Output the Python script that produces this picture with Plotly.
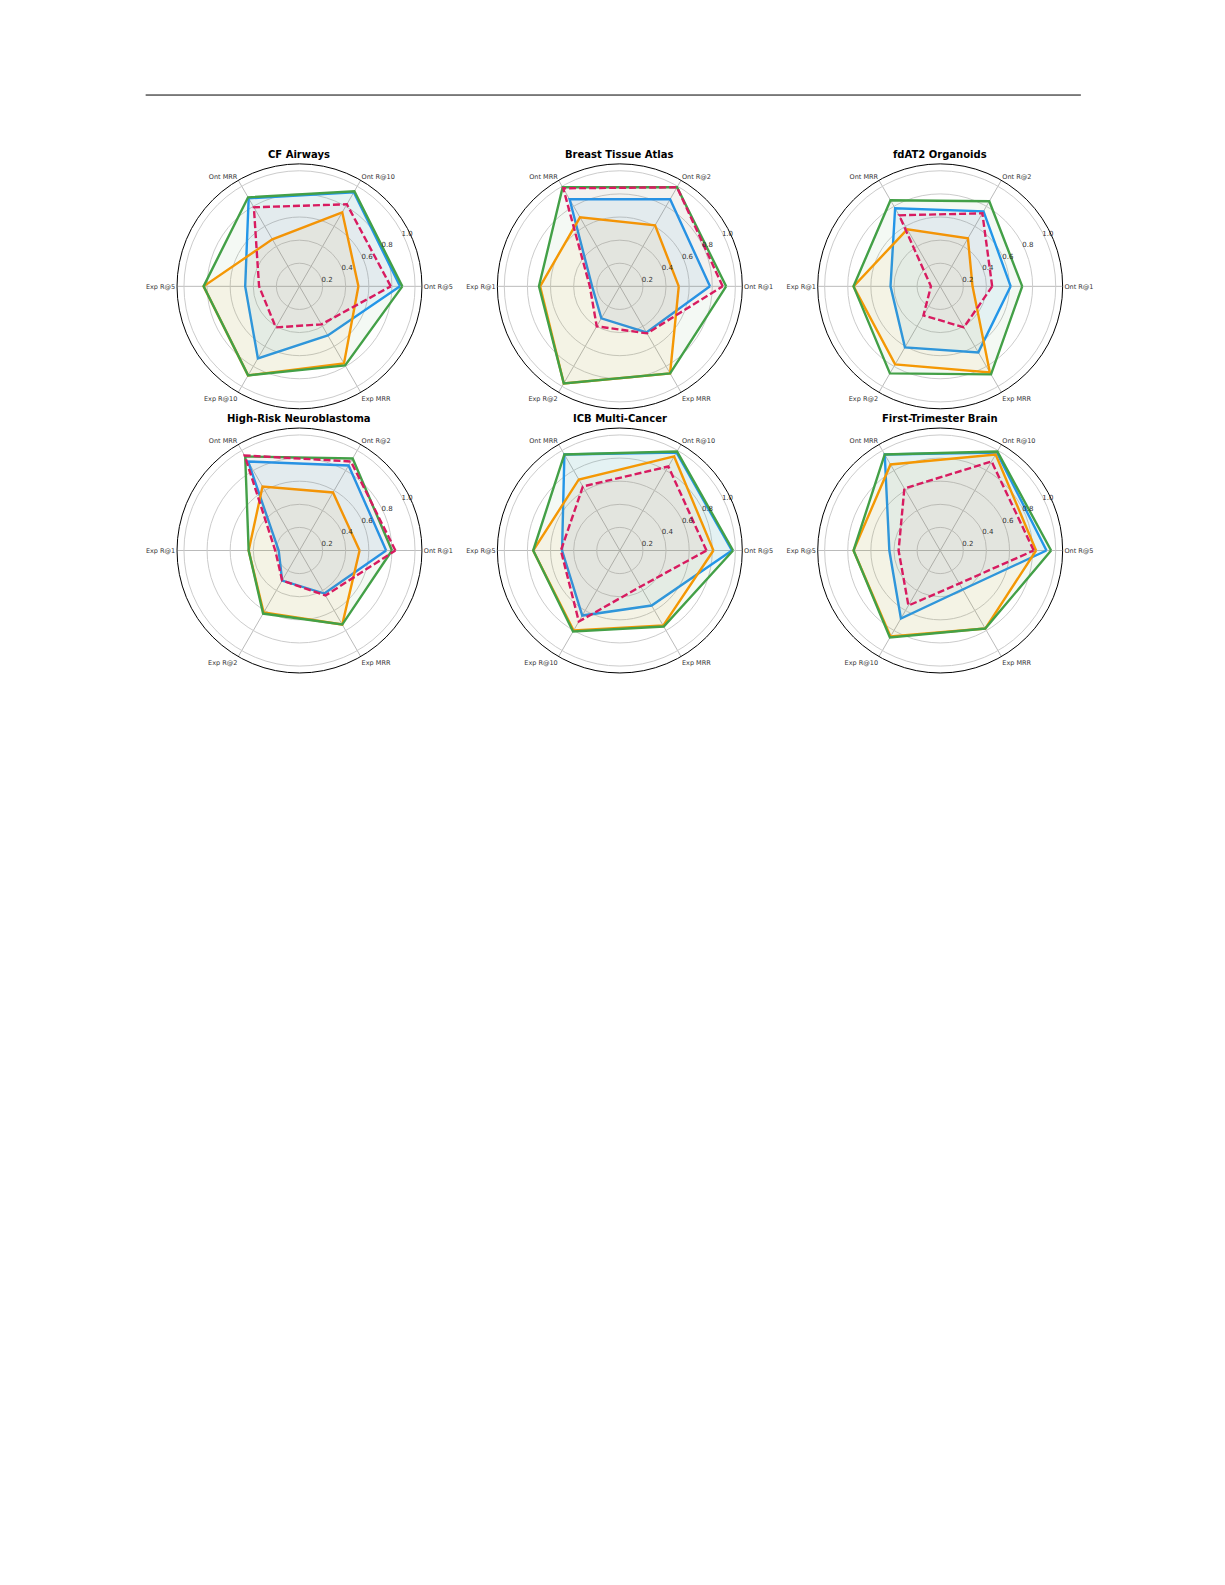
import plotly.graph_objects as go

# Panel titles and axis labels (counter-clockwise from 0 deg)
titles = ["CF Airways", "Breast Tissue Atlas", "fdAT2 Organoids",
          "High-Risk Neuroblastoma", "ICB Multi-Cancer", "First-Trimester Brain"]

axis_labels = [
    ["Ont R@5", "Ont R@10", "Ont MRR", "Exp R@5", "Exp R@10", "Exp MRR"],
    ["Ont R@1", "Ont R@2", "Ont MRR", "Exp R@1", "Exp R@2", "Exp MRR"],
    ["Ont R@1", "Ont R@2", "Ont MRR", "Exp R@1", "Exp R@2", "Exp MRR"],
    ["Ont R@1", "Ont R@2", "Ont MRR", "Exp R@1", "Exp R@2", "Exp MRR"],
    ["Ont R@5", "Ont R@10", "Ont MRR", "Exp R@5", "Exp R@10", "Exp MRR"],
    ["Ont R@5", "Ont R@10", "Ont MRR", "Exp R@5", "Exp R@10", "Exp MRR"],
]

# values, one row per panel
blue_vals = [
    [0.87, 0.94, 0.88, 0.47, 0.72, 0.49],
    [0.78, 0.87, 0.87, 0.24, 0.32, 0.46],
    [0.61, 0.75, 0.78, 0.43, 0.61, 0.66],
    [0.75, 0.85, 0.89, 0.18, 0.30, 0.43],
    [0.97, 0.98, 0.96, 0.50, 0.65, 0.55],
    [0.92, 0.98, 0.96, 0.44, 0.68, 0.39],
]
orange_vals = [
    [0.51, 0.74, 0.47, 0.83, 0.89, 0.77],
    [0.51, 0.61, 0.69, 0.69, 0.97, 0.87],
    [0.28, 0.48, 0.57, 0.75, 0.78, 0.86],
    [0.52, 0.58, 0.64, 0.44, 0.62, 0.74],
    [0.81, 0.94, 0.71, 0.75, 0.80, 0.75],
    [0.83, 0.96, 0.86, 0.75, 0.86, 0.78],
]
green_vals = [
    [0.89, 0.95, 0.89, 0.83, 0.89, 0.79],
    [0.92, 0.99, 0.99, 0.70, 0.97, 0.87],
    [0.71, 0.85, 0.86, 0.75, 0.87, 0.88],
    [0.80, 0.92, 0.94, 0.44, 0.63, 0.74],
    [0.98, 0.99, 0.96, 0.75, 0.81, 0.76],
    [0.96, 0.99, 0.96, 0.75, 0.87, 0.78],
]
magenta_vals = [
    [0.79, 0.82, 0.79, 0.35, 0.41, 0.38],
    [0.89, 0.99, 0.98, 0.26, 0.40, 0.47],
    [0.45, 0.73, 0.71, 0.08, 0.29, 0.41],
    [0.83, 0.89, 0.95, 0.21, 0.30, 0.45],
    [0.75, 0.84, 0.64, 0.51, 0.71, 0.36],
    [0.81, 0.89, 0.62, 0.36, 0.55, 0.33],
]

# name, values, colour, dash, fill alpha
series = [
    ("Method A", blue_vals, "#2196F3", "solid", 0.07),
    ("Method B", orange_vals, "#FF9800", "solid", 0.06),
    ("Method C", green_vals, "#43A047", "solid", 0.06),
    ("Method D", magenta_vals, "#D81B60", "7px,3px", 0.03),
]

# the page gets an 8px body margin and is shot slightly scaled down,
# so page positions are mapped back into figure pixels here
W, H = 1209, 1569
OFF, SC = 8, 0.988


def px(v):
    return (v - OFF) / SC


col_x = [px(296), px(612.5), px(929)]
row_y = [px(283), px(544)]
R = 121 / SC  # pixel radius of outer ring

fig = go.Figure()


def hex_rgba(h, a):
    h = h.lstrip("#")
    return "rgba(%d,%d,%d,%s)" % (int(h[0:2], 16), int(h[2:4], 16), int(h[4:6], 16), a)


layout_polars = {}
annotations = []
for i, title in enumerate(titles):
    name = "polar" if i == 0 else "polar%d" % (i + 1)
    cx = col_x[i % 3]
    cy = row_y[i // 3]
    labels = axis_labels[i]
    for sname, vals, color, dash, alpha in series:
        v = vals[i]
        fig.add_trace(go.Scatterpolar(
            r=v + [v[0]],
            theta=labels + [labels[0]],
            mode="lines",
            fill="toself",
            fillcolor=hex_rgba(color, alpha),
            line=dict(color=color, width=2.4, dash=dash),
            name=sname,
            subplot=name,
            showlegend=False,
        ))
    layout_polars[name] = dict(
        domain=dict(x=[(cx - R) / W, (cx + R) / W],
                    y=[1 - (cy + R) / H, 1 - (cy - R) / H]),
        bgcolor="white",
        radialaxis=dict(
            range=[0, 1.06],
            tickvals=[0.2, 0.4, 0.6, 0.8, 1.0],
            ticktext=["0.2", "0.4", "0.6", "0.8", "1.0"],
            angle=30,
            tickangle=30,
            side="clockwise",
            showline=False,
            ticks="",
            gridcolor="#cccccc",
            gridwidth=0.8,
            tickfont=dict(size=7, color="#333333", family="DejaVu Sans"),
        ),
        angularaxis=dict(
            categoryarray=labels,
            rotation=0,
            direction="counterclockwise",
            showline=True,
            linecolor="black",
            linewidth=1,
            gridcolor="#bbbbbb",
            gridwidth=0.8,
            ticks="",
            tickfont=dict(size=6.5, color="#333333", family="DejaVu Sans"),
        ),
    )
    annotations.append(dict(
        text="<b>%s</b>" % title,
        x=cx / W, y=1 - (cy - 130 / SC) / H,
        xref="paper", yref="paper",
        xanchor="center", yanchor="middle",
        showarrow=False,
        font=dict(size=10, color="black", family="DejaVu Sans"),
    ))

fig.update_layout(
    width=W, height=H,
    margin=dict(l=0, r=0, t=0, b=0),
    paper_bgcolor="white",
    plot_bgcolor="white",
    showlegend=False,
    annotations=annotations,
    shapes=[dict(type="line", xref="paper", yref="paper",
                 x0=px(144) / W, x1=px(1068) / W,
                 y0=1 - px(94) / H, y1=1 - px(94) / H,
                 line=dict(color="black", width=1))],
    **layout_polars,
)

fig.write_html("out.html")
